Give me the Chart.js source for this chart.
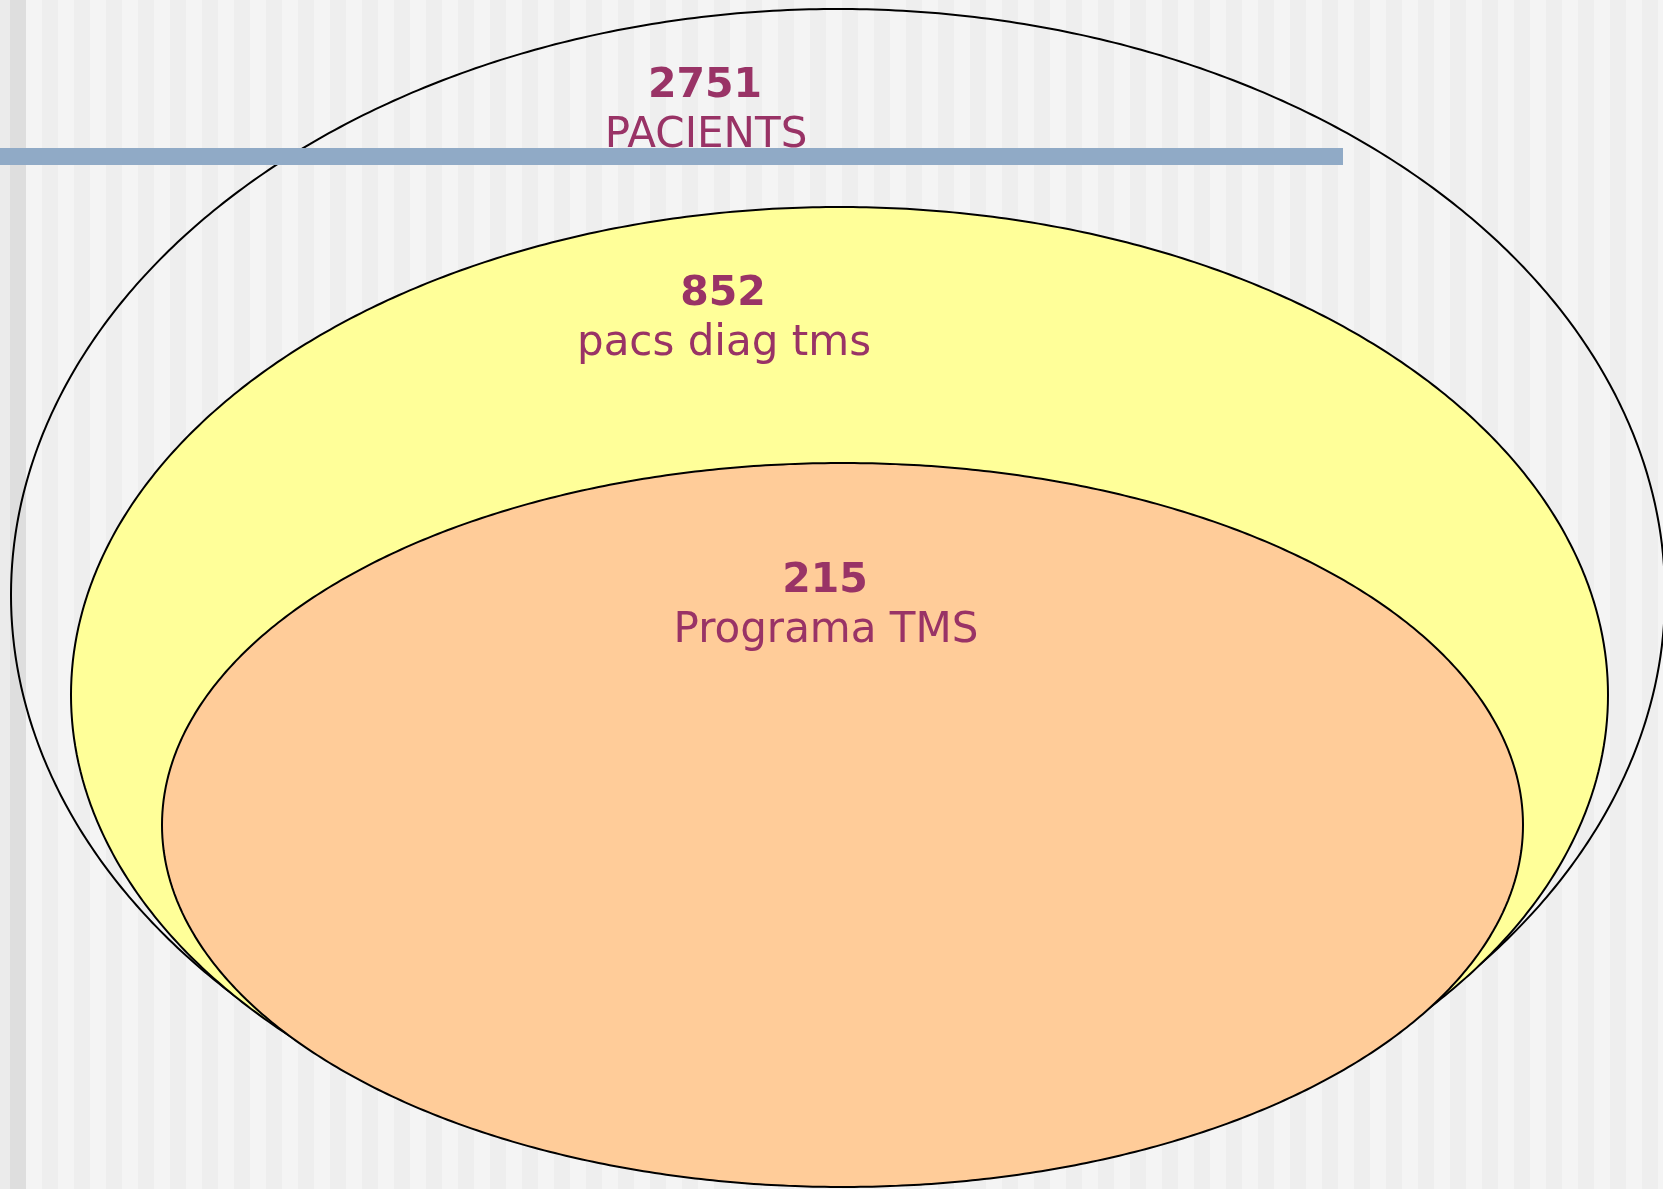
<!DOCTYPE html>
<html>
<head>
<meta charset="utf-8">
<title>Pacients TMS</title>
<script src="https://cdn.jsdelivr.net/npm/chart.js@4.4.1/dist/chart.umd.min.js"></script>
<style>
    html, body {
        margin: 0;
        padding: 0;
        overflow: hidden;
        background: #f4f4f4;
    }
    #wrap {
        position: absolute;
        left: 0;
        top: 0;
        width: 1663px;
        height: 1189px;
    }
</style>
</head>
<body>
<div id="wrap"><canvas id="vennChart" width="1663" height="1189"></canvas></div>
<script>
// conjunts (de fora cap a dins)
const setNames = ['PACIENTS', 'pacs diag tms', 'Programa TMS'];
const setCounts = [2751, 852, 215];

// el·lipses en unitats de l'eix (x 0..1663, y 0..1189 de dalt a baix)
const centerX = [838, 839.5, 842.5];
const centerY = [595, 695, 825];
const radiusX = [827, 768.5, 680.5];
const radiusY = [586, 488, 362];

// on va cada etiqueta (línia base del número)
const labelX = [705, 723, 825];
const labelY = [97, 305, 592];

const fillColors = ['rgba(0,0,0,0)', '#ffff99', '#ffcc99'];
const textColor = '#993366';

function puntsElipse(i) {
    const punts = [];
    for (let k = 0; k <= 360; k++) {
        const t = (k / 360) * Math.PI * 2;
        punts.push({
            x: centerX[i] + radiusX[i] * Math.cos(t),
            y: centerY[i] + radiusY[i] * Math.sin(t)
        });
    }
    return punts;
}

// fons de ratlles verticals com la plantilla de la diapositiva
const fonsPlugin = {
    id: 'fons',
    beforeDraw(chart) {
        const ctx = chart.ctx;
        const w = chart.width;
        const h = chart.height;
        ctx.save();
        ctx.fillStyle = '#f4f4f4';
        ctx.fillRect(0, 0, w, h);
        ctx.fillStyle = '#eeeeee';
        for (let x = 42; x < w; x += 32) {
            ctx.fillRect(x, 0, 16, h);
        }
        ctx.fillStyle = '#ebebeb';
        ctx.fillRect(0, 0, 10, h);
        ctx.fillStyle = '#dedede';
        ctx.fillRect(10, 0, 16, h);
        ctx.restore();
    }
};

const etiquetesPlugin = {
    id: 'etiquetes',
    afterDatasetsDraw(chart) {
        const ctx = chart.ctx;
        const sx = chart.scales.x;
        const sy = chart.scales.y;
        ctx.save();
        ctx.fillStyle = textColor;
        ctx.textAlign = 'center';
        ctx.textBaseline = 'alphabetic';
        setNames.forEach((nom, i) => {
            const px = sx.getPixelForValue(labelX[i]);
            const py = sy.getPixelForValue(labelY[i]);
            ctx.font = 'bold 41px "DejaVu Sans", Verdana, sans-serif';
            ctx.fillText(String(setCounts[i]), px, py);
            ctx.font = '42px "DejaVu Sans", Verdana, sans-serif';
            ctx.fillText(nom, px + 1, py + 50);
        });

        // barra blava del títol
        const x0 = sx.getPixelForValue(0);
        const x1 = sx.getPixelForValue(1343);
        const y0 = sy.getPixelForValue(148);
        const y1 = sy.getPixelForValue(165);
        ctx.fillStyle = '#90aac6';
        ctx.fillRect(x0, y0, x1 - x0, y1 - y0);
        ctx.restore();
    }
};

const datasets = setNames.map((nom, i) => ({
    label: nom,
    data: puntsElipse(i),
    showLine: true,
    fill: i === 0 ? false : 'shape',
    backgroundColor: fillColors[i],
    borderColor: '#000000',
    borderWidth: 2,
    pointRadius: 0,
    tension: 0.1,
    order: 3 - i
}));

new Chart(document.getElementById('vennChart').getContext('2d'), {
    type: 'scatter',
    data: { datasets: datasets },
    options: {
        responsive: false,
        animation: false,
        layout: { padding: 0 },
        plugins: {
            legend: { display: false },
            tooltip: { enabled: false }
        },
        scales: {
            x: { type: 'linear', min: 0, max: 1663, display: false },
            y: { type: 'linear', min: 0, max: 1189, reverse: true, display: false }
        }
    },
    plugins: [fonsPlugin, etiquetesPlugin]
});
</script>
</body>
</html>
